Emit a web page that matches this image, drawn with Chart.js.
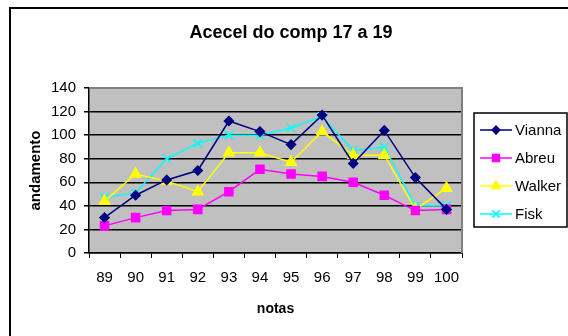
<!DOCTYPE html>
<html>
<head>
<meta charset="utf-8">
<script src="https://cdn.jsdelivr.net/npm/chart.js@4/dist/chart.umd.min.js"></script>
<style>
  body { margin: 0; background: #fff; }
  canvas { display: block; }
</style>
</head>
<body>
<canvas id="grafico" width="568" height="336"></canvas>
<script>
// notas (eixo x)
const notas = ["89", "90", "91", "92", "93", "94", "95", "96", "97", "98", "99", "100"];

// andamento por comp
const vianna = [30, 49, 62, 70, 112, 103, 92, 117, 76, 104, 64, 37];
const abreu  = [23, 30, 36, 37, 52, 71, 67, 65, 60, 49, 36, 37];
const walker = [44, 67, 61, 52, 85, 85, 77, 103, 83, 83, 37, 55];
const fisk   = [47, 51, 80, 93, 100, 100, 106, 116, 87, 90, 40, 40];

const yTicks = [0, 20, 40, 60, 80, 100, 120, 140];

const FONTE = "'Liberation Sans', Arial, sans-serif";

// fundo, borda externa, area cinza e titulo
const fundoPlugin = {
  id: "fundo",
  beforeDraw(chart) {
    const ctx = chart.ctx;
    const a = chart.chartArea;
    ctx.save();
    ctx.fillStyle = "#fff";
    ctx.fillRect(0, 0, chart.width, chart.height);
    ctx.strokeStyle = "#000";
    ctx.lineWidth = 2;
    ctx.strokeRect(10, 8, 700, 500);
    ctx.fillStyle = "#c0c0c0";
    ctx.fillRect(a.left, a.top, a.right - a.left, a.bottom - a.top);
    ctx.fillStyle = "#000";
    ctx.font = "bold 18px " + FONTE;
    ctx.textAlign = "center";
    ctx.textBaseline = "middle";
    ctx.fillText("Acecel do comp 17 a 19", 291, 33);
    ctx.restore();
  },
  beforeDatasetsDraw(chart) {
    const ctx = chart.ctx;
    const a = chart.chartArea;
    ctx.save();
    ctx.strokeStyle = "#808080";
    ctx.lineWidth = 2;
    ctx.beginPath();
    ctx.moveTo(a.left, a.top);
    ctx.lineTo(a.right, a.top);
    ctx.lineTo(a.right, a.bottom);
    ctx.stroke();
    ctx.restore();
  }
};

// legenda com linha + marcador, estilo Excel
const legendaPlugin = {
  id: "legendaExcel",
  afterDraw(chart) {
    const ctx = chart.ctx;
    ctx.save();
    ctx.strokeStyle = "#000";
    ctx.lineWidth = 1.5;
    ctx.strokeRect(474, 113, 93, 114);
    ctx.font = "15px " + FONTE;
    ctx.textBaseline = "middle";
    ctx.textAlign = "left";
    chart.data.datasets.forEach((ds, i) => {
      const y = 130 + i * 28;
      ctx.strokeStyle = ds.borderColor;
      ctx.lineWidth = ds.borderWidth;
      ctx.beginPath();
      ctx.moveTo(480, y);
      ctx.lineTo(512, y);
      ctx.stroke();
      ctx.fillStyle = ds.pointBackgroundColor;
      ctx.strokeStyle = ds.borderColor;
      ctx.lineWidth = ds.pointBorderWidth;
      Chart.helpers.drawPoint(ctx, {
        pointStyle: ds.pointStyle,
        radius: ds.pointRadius * 0.85,
        rotation: 0,
        borderWidth: ds.pointBorderWidth
      }, 496, y);
      ctx.fillStyle = "#000";
      ctx.fillText(ds.label, 515, y + 1);
    });
    ctx.restore();
  }
};

function serie(label, data, cor, estilo, raio) {
  return {
    label: label,
    data: data,
    borderColor: cor,
    backgroundColor: cor,
    pointBackgroundColor: cor,
    pointBorderColor: cor,
    pointBorderWidth: 1.5,
    borderWidth: 1.5,
    pointStyle: estilo,
    pointRadius: raio,
    pointHoverRadius: raio,
    tension: 0,
    fill: false
  };
}

new Chart(document.getElementById("grafico"), {
  type: "line",
  data: {
    labels: notas,
    datasets: [
      serie("Vianna", vianna, "#000080", "rectRot", 4.5),
      serie("Abreu", abreu, "#ff00ff", "rect", 5.7),
      serie("Walker", walker, "#ffff00", "triangle", 6),
      serie("Fisk", fisk, "#00ffff", "crossRot", 6)
    ]
  },
  options: {
    responsive: false,
    animation: false,
    layout: { padding: { left: 25, top: 88, right: 106, bottom: 14 } },
    plugins: {
      legend: { display: false },
      title: { display: false },
      tooltip: { enabled: false }
    },
    scales: {
      x: {
        offset: true,
        afterFit(scale) { scale.height = 69; },
        grid: {
          offset: true,
          drawOnChartArea: false,
          drawTicks: true,
          tickLength: 5,
          tickColor: "#000",
          color: "#000"
        },
        border: { color: "#000", width: 1.5 },
        ticks: {
          color: "#000",
          padding: 11,
          maxRotation: 0,
          font: { family: FONTE, size: 15 }
        },
        title: {
          display: true,
          text: "notas",
          color: "#000",
          padding: { top: 4, bottom: 4 },
          font: { family: FONTE, size: 14, weight: "bold" }
        }
      },
      y: {
        min: 0,
        max: 140,
        afterFit(scale) { scale.width = 64; },
        afterBuildTicks(scale) { scale.ticks = yTicks.map(v => ({ value: v })); },
        grid: {
          color: ctx => (ctx.tick && ctx.tick.value === 140) ? "rgba(0,0,0,0)" : "#000",
          lineWidth: 1.5,
          tickLength: 5,
          tickColor: "#000"
        },
        border: { color: "#000", width: 1.5 },
        ticks: {
          color: "#000",
          padding: 8,
          font: { family: FONTE, size: 15 }
        },
        title: {
          display: true,
          text: "andamento",
          color: "#000",
          padding: { top: 2, bottom: 2 },
          font: { family: FONTE, size: 15, weight: "bold" }
        }
      }
    }
  },
  plugins: [fundoPlugin, legendaPlugin]
});
</script>
</body>
</html>
